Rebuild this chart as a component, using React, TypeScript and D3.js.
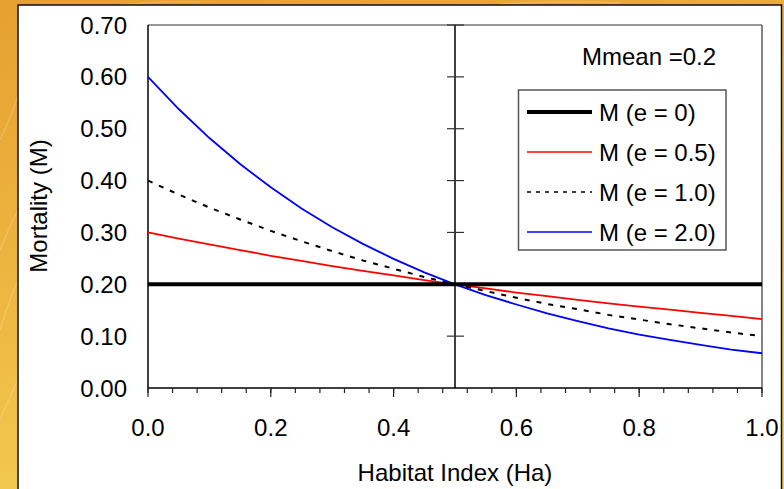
import React from "react";
import * as d3 from "d3";

const habitat = [0, 0.05, 0.1, 0.15, 0.2, 0.25, 0.3, 0.35, 0.4, 0.45, 0.5, 0.55, 0.6, 0.65, 0.7, 0.75, 0.8, 0.85, 0.9, 0.95, 1.0];
const mE0 = [0.2, 0.2, 0.2, 0.2, 0.2, 0.2, 0.2, 0.2, 0.2, 0.2, 0.2, 0.2, 0.2, 0.2, 0.2, 0.2, 0.2, 0.2, 0.2, 0.2, 0.2];
const mE05 = [0.300, 0.288, 0.277, 0.266, 0.255, 0.245, 0.235, 0.226, 0.217, 0.208, 0.200, 0.192, 0.184, 0.177, 0.170, 0.163, 0.157, 0.151, 0.145, 0.139, 0.133];
const mE10 = [0.400, 0.373, 0.348, 0.325, 0.303, 0.283, 0.264, 0.246, 0.230, 0.214, 0.200, 0.187, 0.174, 0.162, 0.152, 0.141, 0.132, 0.123, 0.115, 0.107, 0.100];
const mE20 = [0.600, 0.538, 0.482, 0.432, 0.387, 0.346, 0.310, 0.278, 0.249, 0.223, 0.200, 0.179, 0.161, 0.144, 0.129, 0.115, 0.103, 0.093, 0.083, 0.074, 0.067];

const seriesNames = ["M (e = 0)", "M (e = 0.5)", "M (e = 1.0)", "M (e = 2.0)"];
const yTicks = [0, 0.1, 0.2, 0.3, 0.4, 0.5, 0.6, 0.7];
const xMajorTicks = [0, 0.2, 0.4, 0.6, 0.8, 1.0];
const xMinorTicks = d3.range(0, 26).map((i) => i * 0.04);
const annotation = "Mmean =0.2";
const xTitle = "Habitat Index (Ha)";
const yTitle = "Mortality (M)";

const W = 784;
const H = 489;
const FONT = "'Liberation Sans', Arial, sans-serif";

export default function App() {
  const x = d3.scaleLinear().domain([0, 1]).range([148, 762]);
  const y = d3.scaleLinear().domain([0, 0.7]).range([388, 25]);
  const midX = x(0.5);

  const mk = (vals: number[]) =>
    d3
      .line<number>()
      .x((_, i) => x(habitat[i]))
      .y((v) => y(v))(vals) as string;

  const styles = [
    { stroke: "#000", width: 4, dash: undefined as string | undefined, lDash: undefined as string | undefined, lWidth: 4 },
    { stroke: "#ff0000", width: 1.8, dash: undefined, lDash: undefined, lWidth: 1.5 },
    { stroke: "#000", width: 2, dash: "5,7", lDash: "4,5", lWidth: 1.5 },
    { stroke: "#0000ff", width: 1.8, dash: undefined, lDash: undefined, lWidth: 1.5 },
  ];
  const data = [mE0, mE05, mE10, mE20];
  const drawOrder = [1, 2, 3, 0];

  const legendRowsY = [112, 152, 192, 232];

  return (
    <svg
      width={W}
      height={H}
      style={{ position: "absolute", left: 0, top: 0 }}
      fontFamily={FONT}
    >
      <defs>
        <linearGradient id="bg" x1="0" y1="0" x2="0.3" y2="1">
          <stop offset="0" stopColor="#E6A030" />
          <stop offset="0.5" stopColor="#EDB440" />
          <stop offset="1" stopColor="#F3CC50" />
        </linearGradient>
      </defs>
      <rect x={0} y={0} width={W} height={H} fill="url(#bg)" />
      <g stroke="#fff" strokeOpacity={0.18} strokeWidth={1.5} fill="none">
        <path d="M0,140 Q10,120 18,95" />
        <path d="M0,250 Q8,230 18,210" />
        <path d="M0,330 Q9,300 18,280" />
        <path d="M0,420 Q8,400 18,380" />
        <path d="M120,5 Q160,0 200,2" />
        <path d="M500,4 Q560,0 620,3" />
      </g>
      <rect x={18} y={5} width={763.5} height={H} fill="#fff" stroke="#111" strokeWidth={1.5} />

      {/* plot frame top & right */}
      <line x1={x(0)} x2={x(1)} y1={y(0.7)} y2={y(0.7)} stroke="#333" strokeWidth={1.2} />
      <line x1={x(1)} x2={x(1)} y1={y(0.7)} y2={y(0)} stroke="#333" strokeWidth={1.2} />

      {/* center line with cross ticks */}
      <line x1={midX} x2={midX} y1={y(0.7)} y2={y(0)} stroke="#000" strokeWidth={1.5} />
      {yTicks.slice(1).map((t) => (
        <line key={"ct" + t} x1={midX - 8} x2={midX + 9} y1={y(t)} y2={y(t)} stroke="#333" strokeWidth={1.2} />
      ))}

      {/* axes */}
      <line x1={x(0)} x2={x(0)} y1={y(0.7)} y2={y(0)} stroke="#000" strokeWidth={1.5} />
      <line x1={x(0)} x2={x(1)} y1={y(0)} y2={y(0)} stroke="#000" strokeWidth={1.5} />
      {xMinorTicks.map((t) => (
        <line key={"mt" + t} x1={x(t)} x2={x(t)} y1={y(0)} y2={y(0) + 5} stroke="#222" strokeWidth={1.2} />
      ))}
      {xMajorTicks.map((t) => (
        <line key={"Mt" + t} x1={x(t)} x2={x(t)} y1={y(0)} y2={y(0) + 9} stroke="#222" strokeWidth={1.2} />
      ))}

      {/* tick labels */}
      {yTicks.map((t) => (
        <text key={"yl" + t} x={127} y={y(t) + 8.5} textAnchor="end" fontSize={24} fill="#000">
          {t.toFixed(2)}
        </text>
      ))}
      {xMajorTicks.map((t) => (
        <text key={"xl" + t} x={x(t)} y={436} textAnchor="middle" fontSize={24} fill="#000">
          {t.toFixed(1)}
        </text>
      ))}

      {/* titles */}
      <text x={455} y={481} textAnchor="middle" fontSize={24} fill="#000">
        {xTitle}
      </text>
      <text transform={`translate(47,206) rotate(-90)`} textAnchor="middle" fontSize={24} fill="#000">
        {yTitle}
      </text>

      {/* series */}
      {drawOrder.map((i) => (
        <path
          key={"s" + i}
          d={mk(data[i])}
          fill="none"
          stroke={styles[i].stroke}
          strokeWidth={styles[i].width}
          strokeDasharray={styles[i].dash}
        />
      ))}

      {/* annotation */}
      <text x={582} y={65} fontSize={24} fill="#000">
        {annotation}
      </text>

      {/* legend */}
      <rect x={518.5} y={90} width={207.5} height={160} fill="#fff" stroke="#555" strokeWidth={1.5} />
      {seriesNames.map((name, i) => (
        <g key={"lg" + i}>
          <line
            x1={527}
            x2={592}
            y1={legendRowsY[i]}
            y2={legendRowsY[i]}
            stroke={styles[i].stroke}
            strokeWidth={styles[i].lWidth}
            strokeDasharray={styles[i].lDash}
          />
          <text x={599} y={legendRowsY[i] + 8.5} fontSize={24} fill="#000">
            {name}
          </text>
        </g>
      ))}
    </svg>
  );
}
